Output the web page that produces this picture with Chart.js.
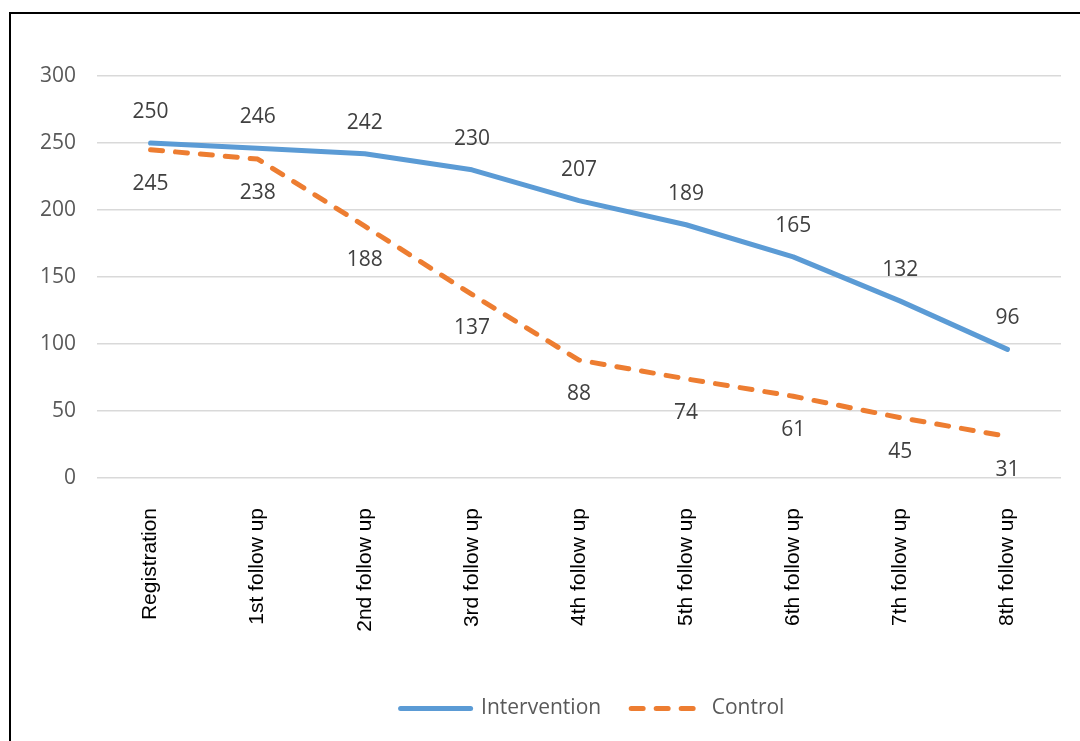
<!DOCTYPE html>
<html>
<head>
<meta charset="utf-8">
<script src="https://cdn.jsdelivr.net/npm/chart.js@4"></script>
<style>
  html, body { margin: 0; padding: 0; background: #fff; overflow: hidden; }
  #wrap { position: relative; width: 1080px; height: 741px; }
  #frame {
    position: absolute; left: 9px; top: 12px; width: 1100px; height: 800px;
    border-top: 2px solid #000; border-left: 2px solid #000; pointer-events: none;
  }
</style>
</head>
<body>
<div id="wrap">
  <canvas id="followChart" width="1080" height="741"></canvas>
  <div id="frame"></div>
</div>
<script>
const categories = ['Registration', '1st follow up', '2nd follow up', '3rd follow up', '4th follow up',
  '5th follow up', '6th follow up', '7th follow up', '8th follow up'];
const intervention = [250, 246, 242, 230, 207, 189, 165, 132, 96];
const control = [245, 238, 188, 137, 88, 74, 61, 45, 31];
const yTicks = [0, 50, 100, 150, 200, 250, 300];

// value labels: above for intervention, below for control
const valueLabels = {
  id: 'valueLabels',
  afterDatasetsDraw(chart) {
    const ctx = chart.ctx;
    ctx.save();
    ctx.font = "21px 'Open Sans'";
    ctx.fillStyle = '#404040';
    ctx.textAlign = 'center';
    ctx.textBaseline = 'middle';
    chart.data.datasets.forEach((ds, i) => {
      const meta = chart.getDatasetMeta(i);
      const shift = i === 0 ? -31 : 34;
      meta.data.forEach((pt, j) => {
        ctx.fillText(ds.data[j], pt.x, pt.y + shift);
      });
    });
    ctx.restore();
  }
};

// legend in the original sits a bit right of the plot centre
const legendShift = {
  id: 'legendShift',
  beforeDraw(chart) {
    if (chart.legend && !chart.legend._shifted) {
      chart.legend.left += 62;
      chart.legend.right += 62;
      chart.legend._shifted = true;
    }
  }
};

new Chart(document.getElementById('followChart'), {
  type: 'line',
  data: {
    labels: categories,
    datasets: [
      {
        label: 'Intervention',
        data: intervention,
        borderColor: '#5B9BD5',
        backgroundColor: '#5B9BD5',
        borderWidth: 5,
        borderCapStyle: 'round',
        borderJoinStyle: 'round',
        pointRadius: 0,
        tension: 0
      },
      {
        label: 'Control',
        data: control,
        borderColor: '#ED7D31',
        backgroundColor: '#ED7D31',
        borderWidth: 5,
        borderDash: [12, 13],
        borderCapStyle: 'round',
        borderJoinStyle: 'round',
        pointRadius: 0,
        tension: 0
      }
    ]
  },
  options: {
    responsive: false,
    animation: false,
    layout: { padding: { top: 76, right: 19, left: 0, bottom: 12 } },
    plugins: {
      tooltip: { enabled: false },
      legend: {
        position: 'bottom',
        labels: {
          usePointStyle: true,
          pointStyle: 'line',
          pointStyleWidth: 70,
          color: '#595959',
          font: { family: "'Open Sans'", size: 21 },
          padding: 30,
          generateLabels(chart) {
            return chart.data.datasets.map((ds, i) => ({
              text: ds.label,
              datasetIndex: i,
              pointStyle: 'line',
              strokeStyle: ds.borderColor,
              fillStyle: ds.borderColor,
              lineWidth: ds.borderWidth,
              lineDash: ds.borderDash || [],
              lineCap: 'round',
              fontColor: '#595959',
              hidden: false
            }));
          }
        }
      }
    },
    scales: {
      x: {
        offset: true,
        grid: { display: false, drawTicks: false },
        border: { display: false },
        ticks: {
          color: '#000',
          font: { family: "'Liberation Sans'", size: 21 },
          minRotation: 90,
          maxRotation: 90,
          padding: 30,
          autoSkip: false
        },
        afterFit(scale) { scale.height = 190; }
      },
      y: {
        min: 0,
        max: 300,
        afterBuildTicks(scale) { scale.ticks = yTicks.map(v => ({ value: v })); },
        grid: { color: '#D9D9D9', lineWidth: 1.5, drawTicks: false },
        border: { display: false },
        ticks: {
          color: '#595959',
          font: { family: "'Open Sans'", size: 21 },
          padding: 21
        },
        afterFit(scale) { scale.width = 97; }
      }
    }
  },
  plugins: [valueLabels, legendShift]
});
</script>
</body>
</html>
